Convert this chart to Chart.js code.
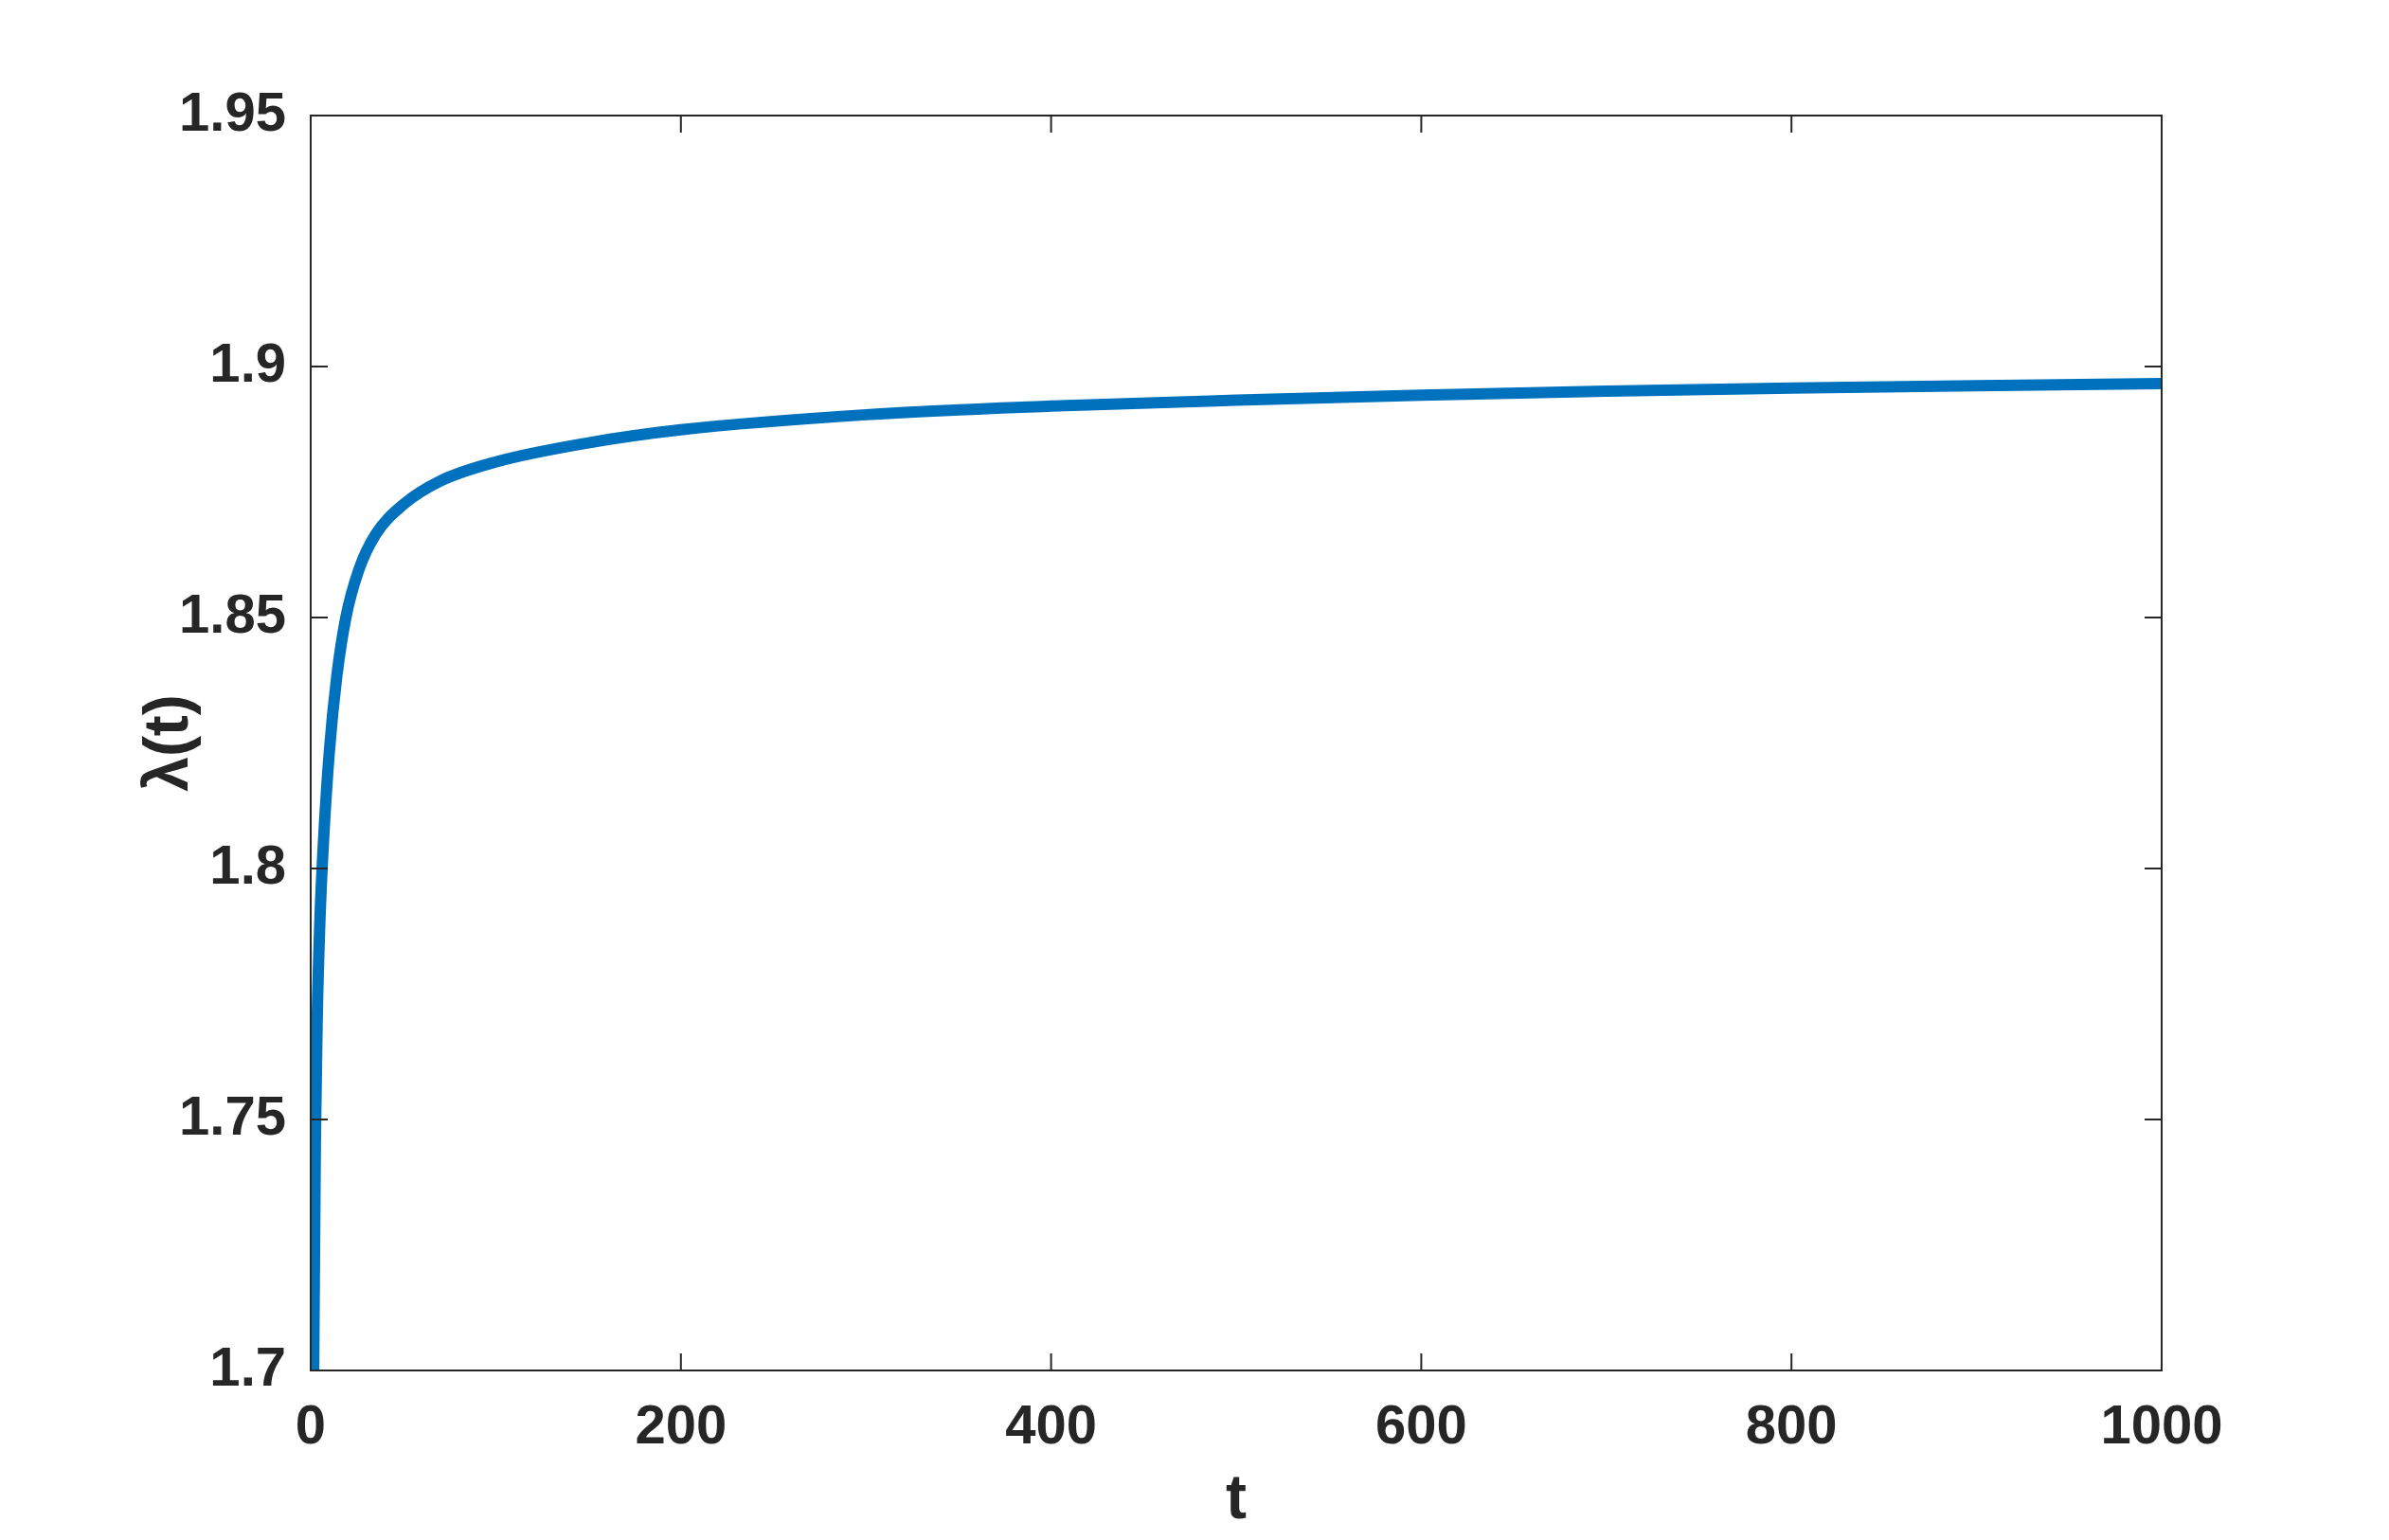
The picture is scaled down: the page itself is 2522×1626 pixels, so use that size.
<!DOCTYPE html>
<html>
<head>
<meta charset="utf-8">
<script src="https://cdn.jsdelivr.net/npm/chart.js@4/dist/chart.umd.min.js"></script>
<style>
  body { margin: 0; background: #fff; }
  #wrap { width: 2522px; height: 1626px; }
</style>
</head>
<body>
<div id="wrap"><canvas id="lambdaChart"></canvas></div>
<script>
// values
const tValues = [1.6, 2.5, 3.5, 5, 7, 10, 14, 19, 26, 35, 50, 70, 100, 150, 200, 300, 400, 500, 600, 700, 800, 900, 1000];
const lambdaValues = [1.70, 1.745, 1.77, 1.79, 1.806, 1.823, 1.838, 1.85, 1.8595, 1.8665, 1.8725, 1.8772, 1.881, 1.8848, 1.8874, 1.8904, 1.8921, 1.8933, 1.8943, 1.8951, 1.8957, 1.8962, 1.8966];
const xTicks = [0, 200, 400, 600, 800, 1000];
const yTicks = [1.7, 1.75, 1.8, 1.85, 1.9, 1.95];

const axisColor = '#262626';
const tickFont = { family: 'Liberation Sans, Arial, sans-serif', size: 58, weight: 'bold' };
const titleFont = { family: 'Liberation Sans, Arial, sans-serif', size: 66, weight: 'bold' };

// box + inward tick marks like the original figure
const boxPlugin = {
  id: 'boxPlugin',
  afterDatasetsDraw(chart) {
    const { ctx, chartArea: a, scales } = chart;
    const len = 18;
    ctx.save();
    ctx.strokeStyle = axisColor;
    ctx.lineWidth = 2;
    ctx.strokeRect(a.left, a.top, a.right - a.left, a.bottom - a.top);
    ctx.beginPath();
    xTicks.forEach(v => {
      const x = scales.x.getPixelForValue(v);
      ctx.moveTo(x, a.bottom); ctx.lineTo(x, a.bottom - len);
      ctx.moveTo(x, a.top); ctx.lineTo(x, a.top + len);
    });
    yTicks.forEach(v => {
      const y = scales.y.getPixelForValue(v);
      ctx.moveTo(a.left, y); ctx.lineTo(a.left + len, y);
      ctx.moveTo(a.right, y); ctx.lineTo(a.right - len, y);
    });
    ctx.stroke();
    ctx.restore();
  }
};

const ctx = document.getElementById('lambdaChart').getContext('2d');
new Chart(ctx, {
  type: 'line',
  data: {
    datasets: [{
      data: tValues.map((t, i) => ({ x: t, y: lambdaValues[i] })),
      borderColor: '#0072BD',
      borderWidth: 12,
      pointRadius: 0,
      cubicInterpolationMode: 'monotone',
      fill: false
    }]
  },
  options: {
    responsive: true,
    maintainAspectRatio: false,
    animation: false,
    layout: { padding: { left: 0, right: 240, top: 122, bottom: 0 } },
    plugins: { legend: { display: false }, tooltip: { enabled: false } },
    scales: {
      x: {
        type: 'linear',
        min: 0, max: 1000,
        afterBuildTicks: s => { s.ticks = xTicks.map(v => ({ value: v })); },
        afterFit: s => { s.height = 179; },
        grid: { display: false, drawTicks: false },
        border: { display: false },
        ticks: { color: axisColor, font: tickFont, padding: 26, maxRotation: 0, callback: v => String(v) },
        title: { display: true, text: 't', color: axisColor, font: titleFont, padding: { top: 2, bottom: 2 } }
      },
      y: {
        type: 'linear',
        min: 1.7, max: 1.95,
        afterBuildTicks: s => { s.ticks = yTicks.map(v => ({ value: v })); },
        afterFit: s => { s.width = 328; },
        grid: { display: false, drawTicks: false },
        border: { display: false },
        ticks: { color: axisColor, font: tickFont, padding: 26, callback: v => String(+v.toFixed(2)) },
        title: { display: true, text: 'λ(t)', color: axisColor, font: titleFont, padding: { top: 140, bottom: 140 } }
      }
    }
  },
  plugins: [boxPlugin]
});
</script>
</body>
</html>
